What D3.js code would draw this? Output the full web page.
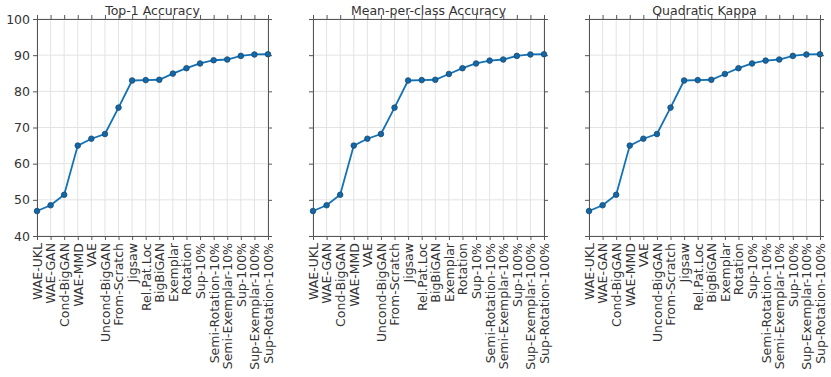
<!DOCTYPE html>
<html>
<head>
<meta charset="utf-8">
<script src="https://cdn.jsdelivr.net/npm/d3@7"></script>
<style>
  body { margin: 0; background: #fff; }
  text { font-family: "DejaVu Sans", sans-serif; fill: #333; }
</style>
</head>
<body>
<div id="chart"></div>
<script>
// methods on the x axis
var methods = ["WAE-UKL", "WAE-GAN", "Cond-BigGAN", "WAE-MMD", "VAE", "Uncond-BigGAN",
  "From-Scratch", "Jigsaw", "Rel.Pat.Loc", "BigBiGAN", "Exemplar", "Rotation", "Sup-10%",
  "Semi-Rotation-10%", "Semi-Exemplar-10%", "Sup-100%", "Sup-Exemplar-100%", "Sup-Rotation-100%"];

// values
var top1 = [46.9, 48.5, 51.4, 65.0, 66.9, 68.2, 75.5, 83.0, 83.1, 83.2, 84.9, 86.4, 87.7, 88.6, 88.8, 89.8, 90.2, 90.25];
var meanPerClass = [46.9, 48.5, 51.4, 65.0, 66.9, 68.2, 75.5, 83.0, 83.1, 83.2, 84.8, 86.4, 87.7, 88.5, 88.8, 89.8, 90.2, 90.25];
var kappa = [46.9, 48.5, 51.4, 65.0, 66.9, 68.2, 75.5, 83.0, 83.1, 83.2, 84.8, 86.4, 87.7, 88.5, 88.8, 89.8, 90.2, 90.25];

var titles = ["Top-1 Accuracy", "Mean-per-class Accuracy", "Quadratic Kappa"];
var yTicks = [40, 50, 60, 70, 80, 90, 100];

var svgWidth = 831, svgHeight = 377;
var panelLeft = [37, 313, 589];
var panelW = 231;
var plotTop = 19, plotH = 217;

var svg = d3.select("#chart").append("svg")
  .attr("width", svgWidth)
  .attr("height", svgHeight);

var series = [top1, meanPerClass, kappa];

var y = d3.scaleLinear().domain([40, 100]).range([plotTop + plotH, plotTop]);

series.forEach(function(vals, i) {
  var x = d3.scalePoint()
    .domain(methods)
    .range([0, panelW])
    .padding(0);

  var g = svg.append("g")
    .attr("transform", "translate(" + panelLeft[i] + ",0)");

  // grid lines
  g.append("g").selectAll("line")
    .data(methods).join("line")
    .attr("x1", d => x(d)).attr("x2", d => x(d))
    .attr("y1", plotTop).attr("y2", plotTop + plotH)
    .attr("stroke", "#e3e3e3").attr("stroke-width", 1);
  g.append("g").selectAll("line")
    .data(yTicks).join("line")
    .attr("x1", 0).attr("x2", panelW)
    .attr("y1", d => y(d)).attr("y2", d => y(d))
    .attr("stroke", "#e3e3e3").attr("stroke-width", 1);

  // axes on all four sides
  var bottomAxis = g.append("g")
    .attr("transform", "translate(0," + (plotTop + plotH) + ")")
    .call(d3.axisBottom(x).tickSize(4).tickPadding(3));
  bottomAxis.selectAll("text")
    .attr("transform", "rotate(-90)")
    .attr("text-anchor", "end")
    .attr("x", -7)
    .attr("y", 0)
    .attr("dy", "0.35em");
  g.append("g")
    .attr("transform", "translate(0," + plotTop + ")")
    .call(d3.axisTop(x).tickSize(4).tickFormat(""));
  g.append("g")
    .call(d3.axisLeft(y).tickValues(yTicks).tickSize(4).tickPadding(3)
      .tickFormat(i === 0 ? d3.format("d") : ""));
  g.append("g")
    .attr("transform", "translate(" + panelW + ",0)")
    .call(d3.axisRight(y).tickValues(yTicks).tickSize(4).tickFormat(""));

  g.selectAll(".domain").attr("stroke", "#555");
  g.selectAll(".tick line").attr("stroke", "#555");
  g.selectAll(".tick text").style("font-size", "12.5px").attr("fill", "#333");

  // line and markers
  var line = d3.line()
    .x((d, j) => x(methods[j]))
    .y(d => y(d));

  g.append("path")
    .datum(vals)
    .attr("fill", "none")
    .attr("stroke", "#1272b6")
    .attr("stroke-width", 1.8)
    .attr("d", line);

  g.selectAll("circle")
    .data(vals).join("circle")
    .attr("cx", (d, j) => x(methods[j]))
    .attr("cy", d => y(d))
    .attr("r", 2.8)
    .attr("fill", "#1268a6")
    .attr("stroke", "#1d4a6e")
    .attr("stroke-width", 0.8);

  // title
  g.append("text")
    .attr("x", panelW / 2)
    .attr("y", 15)
    .attr("text-anchor", "middle")
    .style("font-size", "12.5px")
    .text(titles[i]);
});
</script>
</body>
</html>
